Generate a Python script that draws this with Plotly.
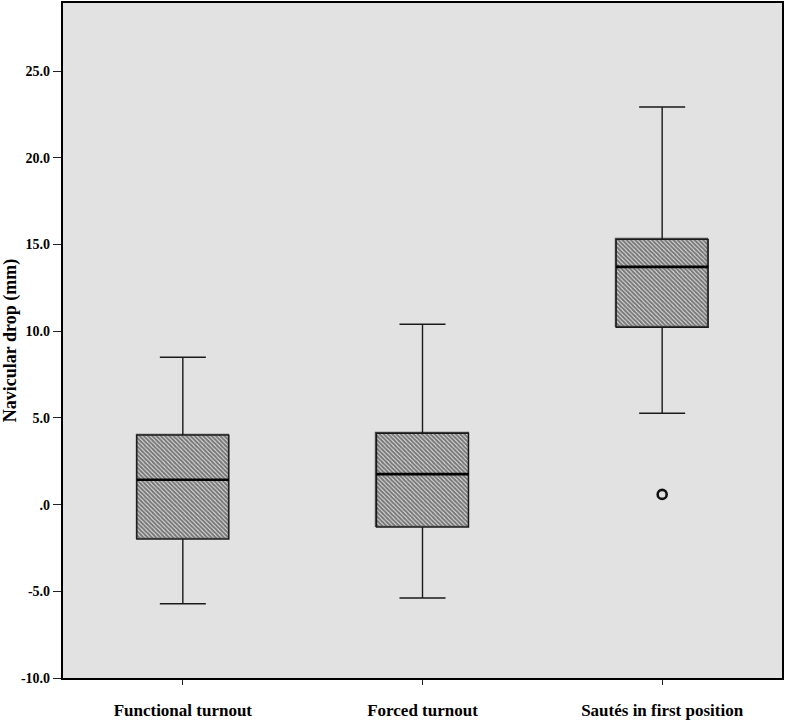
import plotly.graph_objects as go

# ---- data ----
categories = ["Functional turnout", "Forced turnout", "Sautés in first position"]
q1_vals = [-1.99, -1.30, 10.23]
median_vals = [1.43, 1.76, 13.71]
q3_vals = [4.01, 4.12, 15.30]
lower_whisker = [-5.72, -5.39, 5.27]
upper_whisker = [8.50, 10.40, 22.93]
outlier_category = ["Sautés in first position"]
outlier_values = [0.59]

y_tick_vals = [-10, -5, 0, 5, 10, 15, 20, 25]
y_tick_text = ["-10.0", "-5.0", ".0", "5.0", "10.0", "15.0", "20.0", "25.0"]

# ---- styling ----
BOX_W = 0.384
FONT = "Liberation Serif"
pos = list(range(len(categories)))

fig = go.Figure()

# hatched box bodies (bars support fill patterns)
fig.add_trace(go.Bar(
    x=pos,
    y=[q3 - q1 for q1, q3 in zip(q1_vals, q3_vals)],
    base=q1_vals,
    width=BOX_W,
    marker=dict(
        color="#f4f4f4",
        line=dict(color="#555555", width=1.2),
        pattern=dict(shape="\\", fgcolor="#000000", bgcolor="#f4f4f4",
                     size=3, solidity=0.75),
    ),
    hoverinfo="skip",
    showlegend=False,
))

# box outline + whiskers
fig.add_trace(go.Box(
    x=pos,
    q1=q1_vals,
    median=median_vals,
    q3=q3_vals,
    lowerfence=lower_whisker,
    upperfence=upper_whisker,
    width=BOX_W,
    whiskerwidth=0.5,
    fillcolor="rgba(0,0,0,0)",
    line=dict(color="#1a1a1a", width=1.4),
    boxpoints=False,
    showlegend=False,
))

# thicker median lines
mx, my = [], []
for p, m in zip(pos, median_vals):
    mx += [p - BOX_W / 2, p + BOX_W / 2, None]
    my += [m, m, None]
fig.add_trace(go.Scatter(
    x=mx, y=my, mode="lines",
    line=dict(color="#000000", width=2.6),
    hoverinfo="skip", showlegend=False,
))

# outlier
fig.add_trace(go.Scatter(
    x=[categories.index(c) for c in outlier_category],
    y=outlier_values,
    mode="markers",
    marker=dict(symbol="circle-open", size=9, color="#111111",
                line=dict(width=2.6, color="#111111")),
    showlegend=False,
))

fig.update_layout(
    width=787, height=722,
    margin=dict(l=63, r=5, t=3, b=44, autoexpand=False),
    paper_bgcolor="white",
    plot_bgcolor="#e2e2e2",
    font=dict(family=FONT, color="black"),
    bargap=0,
)

fig.update_xaxes(
    range=[-0.5, 2.5],
    tickvals=pos,
    ticktext=categories,
    ticks="outside", ticklen=5, tickwidth=1.2, tickcolor="#222",
    tickfont=dict(family=FONT, size=17, weight="bold", color="black"),
    showline=True, linecolor="black", linewidth=2.2, mirror=True,
    showgrid=False, zeroline=False,
    ticklabelstandoff=10,
    automargin=False,
)

fig.update_yaxes(
    range=[-10, 28.93],
    tickvals=y_tick_vals,
    ticktext=y_tick_text,
    ticks="outside", ticklen=8, tickwidth=1.2, tickcolor="#222",
    tickfont=dict(family=FONT, size=14, weight="bold", color="black"),
    showline=True, linecolor="black", linewidth=2.2, mirror=True,
    showgrid=False, zeroline=False,
    automargin=False,
    title=dict(text="Navicular drop (mm)",
               font=dict(family=FONT, size=18, weight="bold", color="black"),
               standoff=4),
)

fig.write_html("out.html",
               config={"displayModeBar": False},
               post_script="document.body.style.margin='0';")
